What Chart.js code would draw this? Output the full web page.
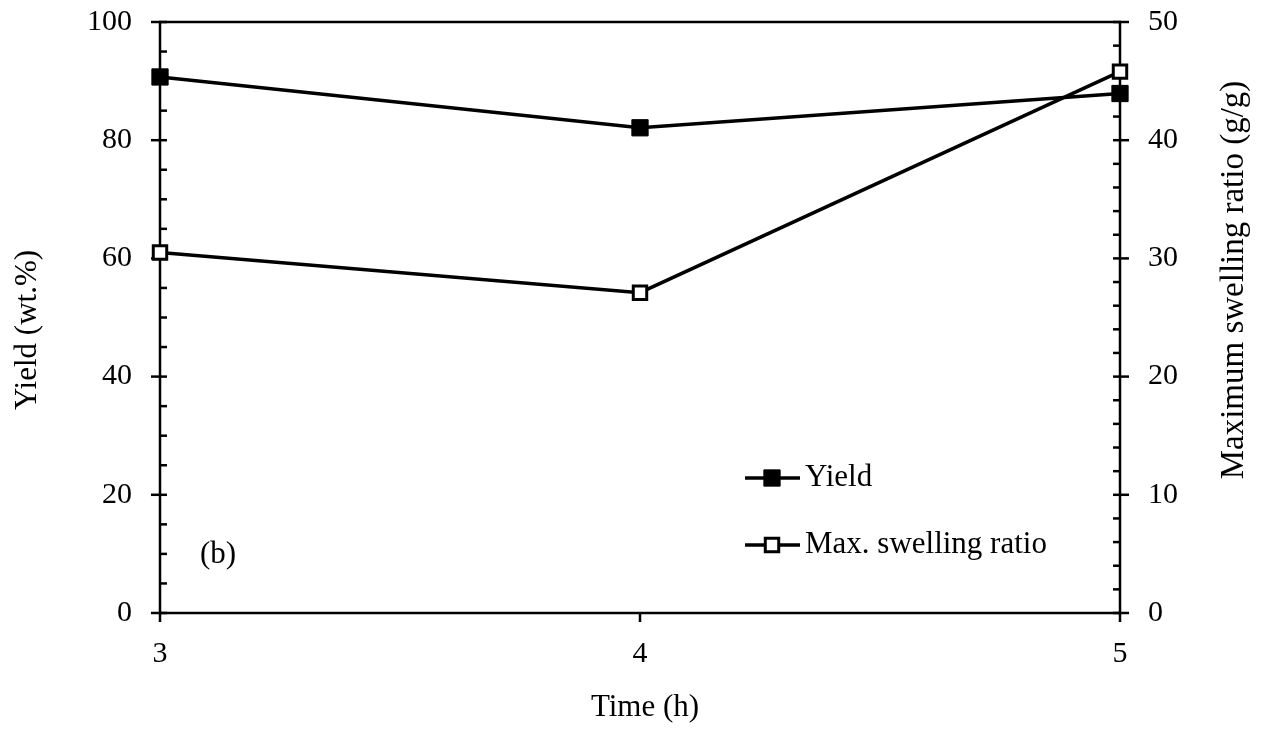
<!DOCTYPE html>
<html>
<head>
<meta charset="utf-8">
<script src="https://cdn.jsdelivr.net/npm/chart.js@4.4.0/dist/chart.umd.min.js"></script>
<style>
  html, body { margin: 0; padding: 0; background: #fff; }
</style>
</head>
<body>
<canvas id="chart" width="1264" height="729"></canvas>
<script>
// данные: время синтеза (ч), выход и макс. степень набухания
const times = [3, 4, 5];
const yieldPct = [90.7, 82.1, 87.9];
const swellingRatio = [30.5, 27.1, 45.8];

const yieldAxis = { min: 0, max: 100, step: 20, minor: 5 };
const swellAxis = { min: 0, max: 50, step: 10, minor: 2 };

const FONT = '"Liberation Serif", "Times New Roman", serif';

const toPoints = (xs, ys) => xs.map((x, i) => ({ x: x, y: ys[i] }));

// рамка и засечки (большие наружу+внутрь, малые внутрь)
const framePlugin = {
  id: 'frame',
  beforeDatasetsDraw(chart) {
    const ctx = chart.ctx;
    const a = chart.chartArea;
    ctx.save();
    ctx.strokeStyle = '#000';
    ctx.lineWidth = 2.5;
    ctx.strokeRect(a.left, a.top, a.right - a.left, a.bottom - a.top);

    const drawTicks = (scale, cfg, x, dir) => {
      for (let v = cfg.min; v <= cfg.max + 1e-9; v += cfg.minor) {
        const y = scale.getPixelForValue(v);
        const major = Math.abs(v / cfg.step - Math.round(v / cfg.step)) < 1e-6;
        ctx.beginPath();
        ctx.moveTo(x - dir * (major ? 9 : 0), y);
        ctx.lineTo(x + dir * 7, y);
        ctx.stroke();
      }
    };
    drawTicks(chart.scales.y, yieldAxis, a.left, 1);
    drawTicks(chart.scales.y1, swellAxis, a.right, -1);

    times.forEach(t => {
      const x = chart.scales.x.getPixelForValue(t);
      ctx.beginPath();
      ctx.moveTo(x, a.bottom);
      ctx.lineTo(x, a.bottom + 9);
      ctx.stroke();
    });
    ctx.restore();
  }
};

// подписи осей, метка (b) и легенда
const textPlugin = {
  id: 'texts',
  afterDraw(chart) {
    const ctx = chart.ctx;
    ctx.save();
    ctx.fillStyle = '#000';
    ctx.font = '31px ' + FONT;

    ctx.textAlign = 'center';
    ctx.textBaseline = 'alphabetic';
    ctx.fillText('Time (h)', 645, 716);

    ctx.textBaseline = 'middle';
    ctx.save();
    ctx.translate(28, 330);
    ctx.rotate(-Math.PI / 2);
    ctx.fillText('Yield (wt.%)', 0, 0);
    ctx.restore();

    ctx.save();
    ctx.font = '33px ' + FONT;
    ctx.translate(1234, 280);
    ctx.rotate(-Math.PI / 2);
    ctx.fillText('Maximum swelling ratio (g/g)', 0, 0);
    ctx.restore();

    ctx.textAlign = 'left';
    ctx.fillText('(b)', 200, 555);

    const items = [
      { text: 'Yield', ds: chart.data.datasets[0], y: 478 },
      { text: 'Max. swelling ratio', ds: chart.data.datasets[1], y: 545 }
    ];
    items.forEach(it => {
      ctx.strokeStyle = '#000';
      ctx.lineWidth = it.ds.borderWidth;
      ctx.beginPath();
      ctx.moveTo(745, it.y);
      ctx.lineTo(800, it.y);
      ctx.stroke();
      ctx.fillStyle = it.ds.pointBackgroundColor;
      ctx.strokeStyle = it.ds.pointBorderColor;
      ctx.lineWidth = it.ds.pointBorderWidth;
      Chart.helpers.drawPoint(ctx, {
        pointStyle: 'rect',
        radius: it.ds.pointRadius,
        borderWidth: it.ds.pointBorderWidth,
        rotation: 0
      }, 772, it.y);
      ctx.fillStyle = '#000';
      ctx.fillText(it.text, 805, it.y);
    });
    ctx.restore();
  }
};

const tickFont = { family: FONT, size: 30 };

new Chart(document.getElementById('chart'), {
  type: 'line',
  data: {
    datasets: [
      {
        label: 'Yield',
        data: toPoints(times, yieldPct),
        yAxisID: 'y',
        borderColor: '#000',
        borderWidth: 3.5,
        pointStyle: 'rect',
        pointRadius: 11.5,
        pointBorderWidth: 1,
        pointBackgroundColor: '#000',
        pointBorderColor: '#000',
        tension: 0,
        clip: false
      },
      {
        label: 'Max. swelling ratio',
        data: toPoints(times, swellingRatio),
        yAxisID: 'y1',
        borderColor: '#000',
        borderWidth: 3.5,
        pointStyle: 'rect',
        pointRadius: 9.5,
        pointBorderWidth: 3,
        pointBackgroundColor: '#fff',
        pointBorderColor: '#000',
        tension: 0,
        clip: false
      }
    ]
  },
  options: {
    responsive: false,
    animation: false,
    devicePixelRatio: 1,
    layout: { padding: { top: 22, left: 0, right: 0, bottom: 0 } },
    plugins: {
      legend: { display: false },
      tooltip: { enabled: false }
    },
    scales: {
      x: {
        type: 'linear',
        min: 3,
        max: 5,
        grid: { display: false, drawTicks: false },
        border: { display: false },
        ticks: { stepSize: 1, padding: 23, color: '#000', font: tickFont },
        afterFit(s) { s.height = 116; s.paddingLeft = 0; s.paddingRight = 0; }
      },
      y: {
        position: 'left',
        min: yieldAxis.min,
        max: yieldAxis.max,
        grid: { display: false, drawTicks: false },
        border: { display: false },
        ticks: { stepSize: yieldAxis.step, padding: 28, color: '#000', font: tickFont },
        afterFit(s) { s.width = 160; s.paddingTop = 0; s.paddingBottom = 0; }
      },
      y1: {
        position: 'right',
        min: swellAxis.min,
        max: swellAxis.max,
        grid: { display: false, drawTicks: false },
        border: { display: false },
        ticks: { stepSize: swellAxis.step, padding: 28, color: '#000', font: tickFont },
        afterFit(s) { s.width = 144; s.paddingTop = 0; s.paddingBottom = 0; }
      }
    }
  },
  plugins: [framePlugin, textPlugin]
});
</script>
</body>
</html>
